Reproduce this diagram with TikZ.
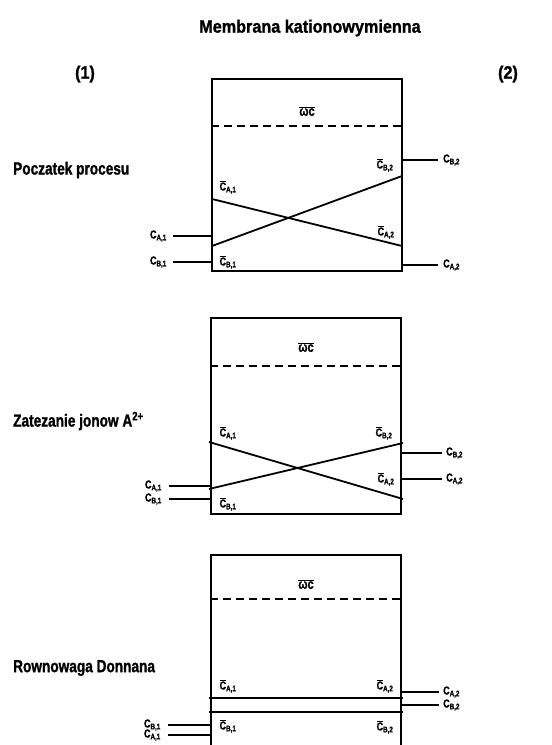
\documentclass[tikz,border=0pt]{standalone}
\usepackage{fontspec}
\setmainfont{Liberation Sans}[FakeStretch=0.78, BoldFeatures={FakeBold=1.2}]
\newfontfamily\headfont{Liberation Sans}[FakeStretch=0.9, BoldFeatures={FakeBold=1.2}]
\usetikzlibrary{positioning}

% concentration in solution / in membrane
\newcommand{\csol}[2]{C\textsubscript{#1,#2}}
\newcommand{\cmem}[2]{$\overline{\mbox{C}}$\textsubscript{#1,#2}}
\newcommand{\capac}{$\overline{\mbox{ω}}\overline{\mbox{c}}$}

\tikzset{
  head/.style={font=\headfont\bfseries\fontsize{18}{20}\selectfont, inner sep=0pt},
  stage/.style={font=\bfseries\fontsize{17.5}{20}\selectfont, anchor=west, inner sep=0pt},
  conc/.style={font=\bfseries\fontsize{11.5}{13}\selectfont, inner sep=0pt},
  fix/.style={font=\bfseries\fontsize{14}{16}\selectfont, inner sep=0pt},
  cell/.style={draw, line width=1.8pt, minimum width=190pt, inner sep=0pt},
  wall/.style={line width=1.8pt},
  fixed/.style={line width=1.6pt, dash pattern=on 8pt off 5pt}
}

\begin{document}
\begin{tikzpicture}[x=1pt,y=-1pt]
  \useasboundingbox (0,0) rectangle (552,745);

  % Headings
  \node[head] (title) at (310,28) {\bfseries Membrana kationowymienna};
  \node[head] (side1) at (85,74) {(1)};
  \node[head] (side2) at (508,74) {(2)};

  %%%%% Stage 1
  \node[cell, minimum height=192pt] (box1) at (307,175) {};
  \draw[fixed] ([yshift=-48pt]box1.north west) -- ([yshift=-48pt]box1.north east);
  \node[fix] (w1) at ([yshift=-33pt]box1.north) {\capac};
  \node[stage] (st1) at (13,170) {Poczatek procesu};

  % profiles inside the membrane
  \draw[wall] (212,199) -- (402,246);
  \draw[wall] (212,246) -- (402,176);
  \node[conc] (mA11) at (228,187) {\cmem{A}{1}};
  \node[conc] (mB11) at (228,262) {\cmem{B}{1}};
  \node[conc] (mA21) at (386,232) {\cmem{A}{2}};
  \node[conc] (mB21) at (385,165) {\cmem{B}{2}};

  % outer solutions
  \node[conc, anchor=east] (sA11) at (167,236) {\csol{A}{1}};
  \node[conc, anchor=east] (sB11) at (167,262) {\csol{B}{1}};
  \node[conc, anchor=west] (sB21) at (443,160) {\csol{B}{2}};
  \node[conc, anchor=west] (sA21) at (443,265) {\csol{A}{2}};
  \draw[wall] ([xshift=6pt]sA11.east) -- (sA11.east -| box1.west);
  \draw[wall] ([xshift=6pt]sB11.east) -- (sB11.east -| box1.west);
  \draw[wall] (box1.east |- sB21.west) -- ([xshift=-5pt]sB21.west);
  \draw[wall] (box1.east |- sA21.west) -- ([xshift=-5pt]sA21.west);

  %%%%% Stage 2
  \node[cell, minimum height=196pt] (box2) at (306,416) {};
  \draw[fixed] ([yshift=-49pt]box2.north west) -- ([yshift=-49pt]box2.north east);
  \node[fix] (w2) at ([yshift=-30pt]box2.north) {\capac};
  \node[stage] (st2) at (13,421) {Zatezanie jonow A\textsuperscript{2+}};

  \draw[wall] (209,442) -- (403,499);
  \draw[wall] (209,489) -- (403,443);
  \node[conc] (mA12) at (228,433) {\cmem{A}{1}};
  \node[conc] (mB12) at (228,504) {\cmem{B}{1}};
  \node[conc] (mA22) at (386,479) {\cmem{A}{2}};
  \node[conc] (mB22) at (384,433) {\cmem{B}{2}};

  \node[conc, anchor=east] (sA12) at (162,486) {\csol{A}{1}};
  \node[conc, anchor=east] (sB12) at (162,499) {\csol{B}{1}};
  \node[conc, anchor=west] (sB22) at (446,453) {\csol{B}{2}};
  \node[conc, anchor=west] (sA22) at (446,479) {\csol{A}{2}};
  \draw[wall] ([xshift=7pt]sA12.east) -- (sA12.east -| box2.west);
  \draw[wall] ([xshift=7pt]sB12.east) -- (sB12.east -| box2.west);
  \draw[wall] (box2.east |- sB22.west) -- ([xshift=-4pt]sB22.west);
  \draw[wall] (box2.east |- sA22.west) -- ([xshift=-4pt]sA22.west);

  %%%%% Stage 3 (runs off the bottom)
  \node[cell, minimum height=210pt] (box3) at (306,660) {};
  \draw[fixed] ([yshift=-45pt]box3.north west) -- ([yshift=-45pt]box3.north east);
  \node[fix] (w3) at ([yshift=-30pt]box3.north) {\capac};
  \node[stage] (st3) at (13,668) {Rownowaga Donnana};

  \draw[wall] (209,698) -- (403,698);
  \draw[wall] (209,712) -- (403,712);
  \node[conc] (mA13) at (228,686) {\cmem{A}{1}};
  \node[conc] (mB13) at (228,726) {\cmem{B}{1}};
  \node[conc] (mA23) at (385,686) {\cmem{A}{2}};
  \node[conc] (mB23) at (385,727) {\cmem{B}{2}};

  \node[conc, anchor=east] (sB13) at (161,725) {\csol{B}{1}};
  \node[conc, anchor=east] (sA13) at (161,735) {\csol{A}{1}};
  \node[conc, anchor=west] (sA23) at (443,692) {\csol{A}{2}};
  \node[conc, anchor=west] (sB23) at (443,705) {\csol{B}{2}};
  \draw[wall] ([xshift=7pt]sB13.east) -- (sB13.east -| box3.west);
  \draw[wall] ([xshift=7pt]sA13.east) -- (sA13.east -| box3.west);
  \draw[wall] (box3.east |- sA23.west) -- ([xshift=-4pt]sA23.west);
  \draw[wall] (box3.east |- sB23.west) -- ([xshift=-4pt]sB23.west);
\end{tikzpicture}
\end{document}
